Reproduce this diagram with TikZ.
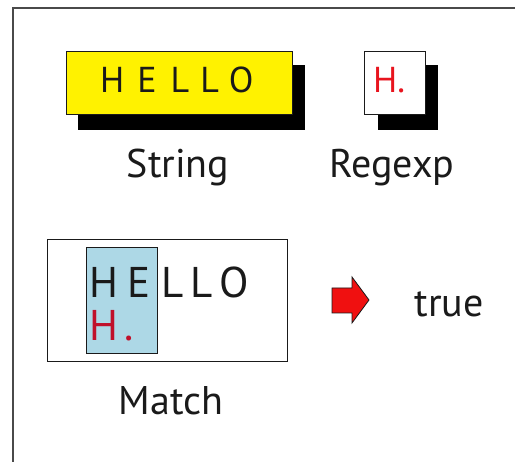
\documentclass[tikz,border=0pt]{standalone}
\usepackage{fontspec}
\setmainfont{PT Sans}
\definecolor{ink}{HTML}{1A1A1A}
\definecolor{framegray}{HTML}{4A4A4A}
\definecolor{hired}{HTML}{E8141E}
\definecolor{darkred}{HTML}{C0102A}
\definecolor{paleblue}{HTML}{ADD8E6}
\definecolor{arrowred}{HTML}{F01010}
\begin{document}
\begin{tikzpicture}[x=1pt,y=-1pt,
  txt/.style={inner sep=0pt, anchor=base, text=ink},
  shadowbox/.style={fill=black, draw=none},
  panel/.style={draw=ink, line width=1pt, inner sep=0pt, anchor=north west},
  frameline/.style={draw=framegray, line width=2pt}]
\useasboundingbox (0,0) rectangle (515,462);
\fill[white] (0,0) rectangle (515,462);
\draw[frameline] (13,462) -- (13,8.5) -- (515,8.5);

% String box
\fill[shadowbox] (78,65) rectangle (305,130);
\node[panel, fill=yellow, minimum width=226pt, minimum height=63pt] (strbox) at (66,51) {};
\node[txt, anchor=base west] (hello) at (100,93)
  {\fontsize{36}{40}\selectfont H\hskip13pt E\hskip14pt L\hskip11pt L\hskip10pt O};
\node[txt] (strlbl) at (178,178) {\fontsize{40}{44}\selectfont String};

% Regexp box
\fill[shadowbox] (378,65) rectangle (438,130);
\node[panel, fill=white, minimum width=61pt, minimum height=63pt] (rebox) at (364,51) {};
\node[txt, text=hired, anchor=base west] (re) at (373,93) {\fontsize{36}{40}\selectfont H.};
\node[txt] (relbl) at (392,178) {\fontsize{40}{44}\selectfont Regexp};

% Match box
\node[panel, fill=white, minimum width=240pt, minimum height=122pt] (matchbox) at (47,239) {};
\node[panel, fill=paleblue, minimum width=71pt, minimum height=106pt] (hl) at (86,247) {};
\node[txt, anchor=base west] (hello2) at (89,298)
  {\fontsize{43}{46}\selectfont H\hskip9pt E\hskip11pt L\hskip7pt L\hskip7pt O};
\node[txt, text=darkred, anchor=base west] (re2) at (89,341)
  {\fontsize{43}{46}\selectfont H\hskip6pt.};
\node[txt] (matchlbl) at (171,415) {\fontsize{40}{44}\selectfont Match};

% arrow
\draw[fill=arrowred, draw=ink, line width=0.8pt, line join=miter]
  (332,288) -- (352,288) -- (352,277) -- (369,300) -- (352,323) -- (352,313) -- (332,313) -- cycle;
\node[txt] (truelbl) at (449,317) {\fontsize{40}{44}\selectfont true};
\end{tikzpicture}
\end{document}
